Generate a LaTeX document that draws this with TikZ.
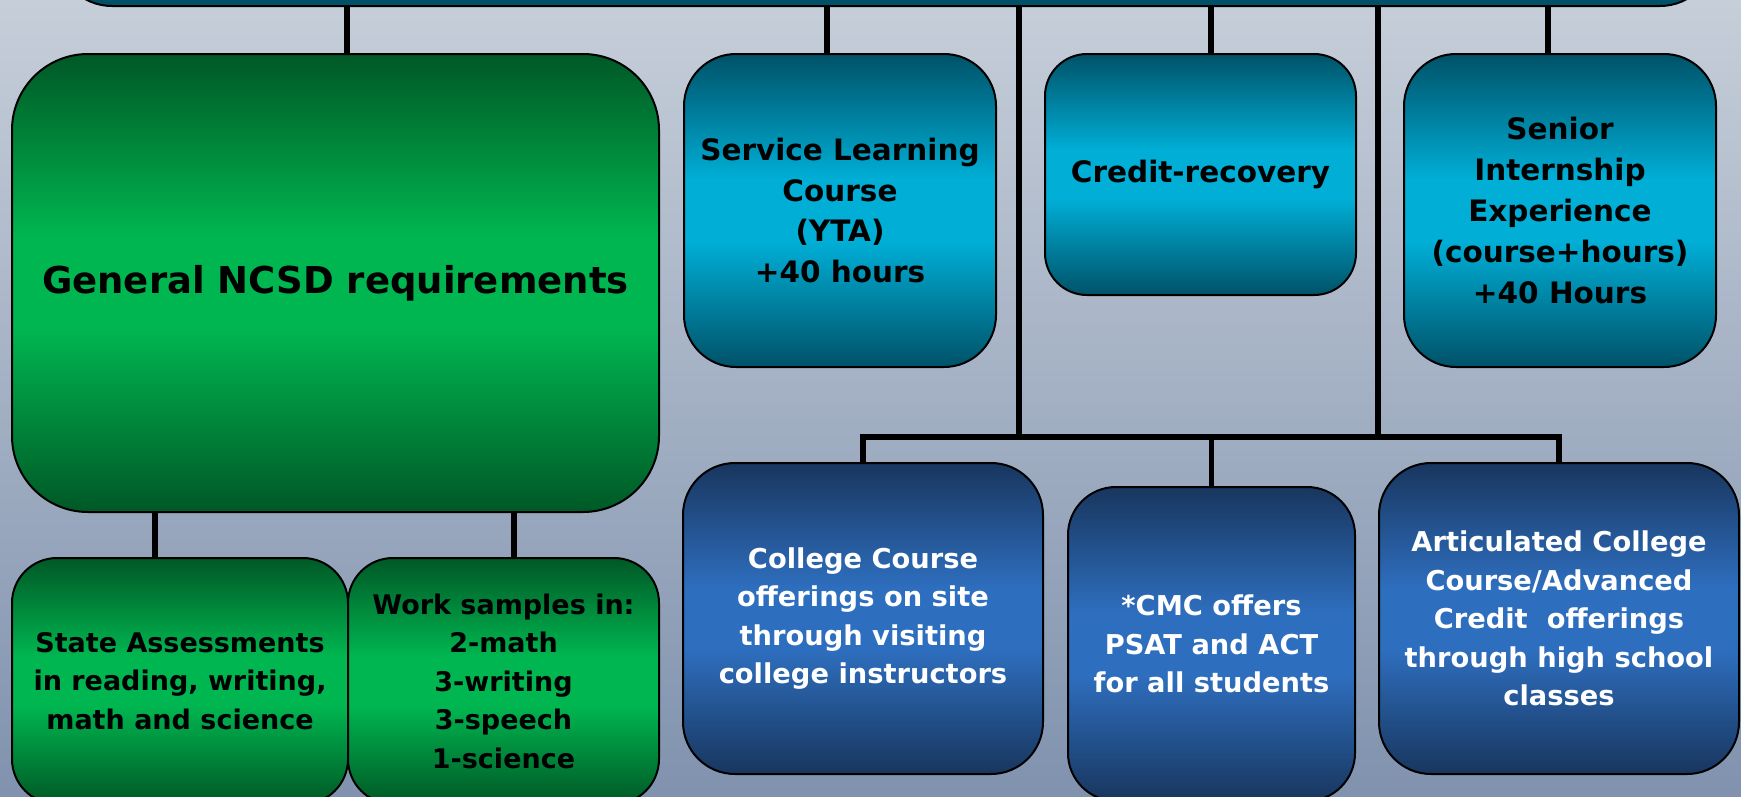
\documentclass[tikz,border=0pt]{standalone}
\usepackage{fontspec}
\setmainfont{DejaVu Sans}
\definecolor{gD}{RGB}{0,88,38}
\definecolor{gB}{RGB}{0,182,80}
\definecolor{tD}{RGB}{0,82,104}
\definecolor{tB}{RGB}{0,174,214}
\definecolor{bD}{RGB}{24,54,94}
\definecolor{bB}{RGB}{46,110,190}
\definecolor{bgT}{RGB}{198,206,217}
\definecolor{bgB}{RGB}{128,146,174}
\definecolor{barC}{RGB}{0,80,104}
\pgfdeclareverticalshading{gsh}{100bp}{color(0bp)=(gD); color(25bp)=(gD); color(45bp)=(gB); color(55bp)=(gB); color(75bp)=(gD); color(100bp)=(gD)}
\pgfdeclareverticalshading{tsh}{100bp}{color(0bp)=(tD); color(25bp)=(tD); color(45bp)=(tB); color(55bp)=(tB); color(75bp)=(tD); color(100bp)=(tD)}
\pgfdeclareverticalshading{bsh}{100bp}{color(0bp)=(bD); color(25bp)=(bD); color(45bp)=(bB); color(55bp)=(bB); color(75bp)=(bD); color(100bp)=(bD)}
\begin{document}
\begin{tikzpicture}[x=1pt,y=-1pt,
  box/.style={draw=black, line width=2pt, rectangle, inner sep=0pt, anchor=north west, align=center},
  gbox/.style={box, shading=gsh, text=black, font=\bfseries\fontsize{27}{38.5}\selectfont},
  tbox/.style={box, shading=tsh, text=black, font=\bfseries\fontsize{29.5}{40.8}\selectfont},
  bbox/.style={box, shading=bsh, text=white, font=\bfseries\fontsize{27.3}{38.5}\selectfont},
  conn/.style={draw=black, line width=5.5pt}]
\useasboundingbox (0,0) rectangle (1741,796);
\clip (0,0) rectangle (1741,796);
\fill[top color=bgT, bottom color=bgB] (0,0) rectangle (1741,796);
% top bar
\node[draw=black, fill=barC, line width=2pt, rounded corners=55pt, minimum width=1658pt, minimum height=120pt, anchor=south west, inner sep=0pt] (top) at (56,7) {};
% first row
\node[gbox, minimum width=647pt, minimum height=458pt, rounded corners=76pt, font=\bfseries\fontsize{37}{44}\selectfont] (gen) at (11,53) {General NCSD requirements};
\node[tbox, minimum width=312pt, minimum height=313pt, rounded corners=52pt] (svc) at (683,53) {Service Learning\\Course\\(YTA)\\+40 hours};
\node[tbox, minimum width=311pt, minimum height=241pt, rounded corners=42pt] (cred) at (1044,53) {Credit-recovery};
\node[tbox, minimum width=312pt, minimum height=313pt, rounded corners=52pt] (sen) at (1403,53) {Senior\\Internship\\Experience\\(course+hours)\\+40 Hours};
% second row (blue)
\node[bbox, minimum width=360pt, minimum height=311pt, rounded corners=52pt] (col) at (682,462) {College Course\\offerings on site\\through visiting\\college instructors};
\node[bbox, minimum width=287pt, minimum height=314pt, rounded corners=48pt] (cmc) at (1067,486) {*CMC offers\\PSAT and ACT\\for all students};
\node[bbox, minimum width=360pt, minimum height=311pt, rounded corners=52pt] (art) at (1378,462) {Articulated College\\Course/Advanced\\Credit\ \ offerings\\through high school\\classes};
% green children
\node[gbox, minimum width=336pt, minimum height=246pt, rounded corners=45pt] (sta) at (11,557) {State Assessments\\in reading, writing,\\math and science};
\node[gbox, minimum width=311pt, minimum height=246pt, rounded corners=45pt] (wrk) at (347,557) {Work samples in:\\2-math\\3-writing\\3-speech\\1-science};
% connector positions
\coordinate (x1) at (347,0);
\coordinate (x2) at (827,0);
\coordinate (x3) at (1019,0);
\coordinate (x4) at (1211,0);
\coordinate (x5) at (1378,0);
\coordinate (x6) at (1548,0);
\coordinate (hbar) at (0,437);
\coordinate (x7) at (155,0);
\coordinate (x8) at (514,0);
% connectors
\draw[conn] (top.south -| x1) -- (gen.north -| x1);
\draw[conn] (top.south -| x2) -- (svc.north -| x2);
\draw[conn] (top.south -| x3) -- (hbar -| x3);
\draw[conn] (top.south -| x4) -- (cred.north -| x4);
\draw[conn] (top.south -| x5) -- (hbar -| x5);
\draw[conn] (top.south -| x6) -- (sen.north -| x6);
\draw[conn] (col.north) -- (col.north |- hbar) -- (art.north |- hbar) -- (art.north);
\draw[conn] (cmc.north |- hbar) -- (cmc.north);
\draw[conn] (gen.south -| x7) -- (sta.north -| x7);
\draw[conn] (gen.south -| x8) -- (wrk.north -| x8);
\end{tikzpicture}
\end{document}
